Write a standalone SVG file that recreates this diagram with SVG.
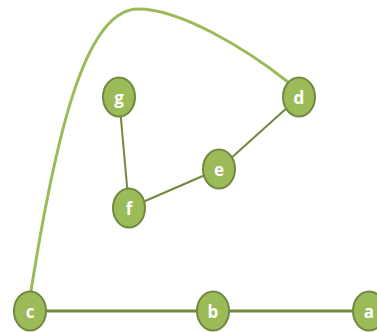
<svg xmlns="http://www.w3.org/2000/svg" width="377" height="332" viewBox="0 0 377 332">
<style>
.n{fill:#9BBB59;stroke:#71893F;stroke-width:2}
.t{fill:#fff;font-family:"Open Sans","Liberation Sans",sans-serif;font-weight:bold;font-size:17px;text-anchor:middle;dominant-baseline:central}
.e{stroke:#71893F;stroke-width:2;fill:none}
.eb{stroke:#71893F;stroke-width:3;fill:none}
.c{stroke:#9BBB59;stroke-width:3;fill:none}
</style>
<rect width="377" height="332" fill="#fff"/>
<g id="edges">
<path class="c" d="M31,291 C58,120 88,9 138,9 C180,9 245,48 288,82"/>
<line class="eb" x1="30" y1="311" x2="369" y2="311"/>
<line class="e" x1="119" y1="97" x2="129" y2="208"/>
<line class="e" x1="129" y1="208" x2="219" y2="169"/>
<line class="e" x1="219" y1="169" x2="299" y2="97"/>
</g>
<g id="node-g"><ellipse class="n" cx="119" cy="97" rx="16" ry="19.5"/><text class="t" x="119" y="97">g</text></g>
<g id="node-d"><ellipse class="n" cx="299" cy="97" rx="16" ry="19.5"/><text class="t" x="299" y="97">d</text></g>
<g id="node-e"><ellipse class="n" cx="219" cy="169" rx="16" ry="19.5"/><text class="t" x="219" y="169">e</text></g>
<g id="node-f"><ellipse class="n" cx="129" cy="208" rx="16" ry="19.5"/><text class="t" x="129" y="208">f</text></g>
<g id="node-c"><ellipse class="n" cx="30" cy="311" rx="16" ry="19.5"/><text class="t" x="30" y="311">c</text></g>
<g id="node-b"><ellipse class="n" cx="213" cy="311" rx="16" ry="19.5"/><text class="t" x="213" y="311">b</text></g>
<g id="node-a"><ellipse class="n" cx="369" cy="311" rx="16" ry="19.5"/><text class="t" x="369" y="311">a</text></g>
</svg>
